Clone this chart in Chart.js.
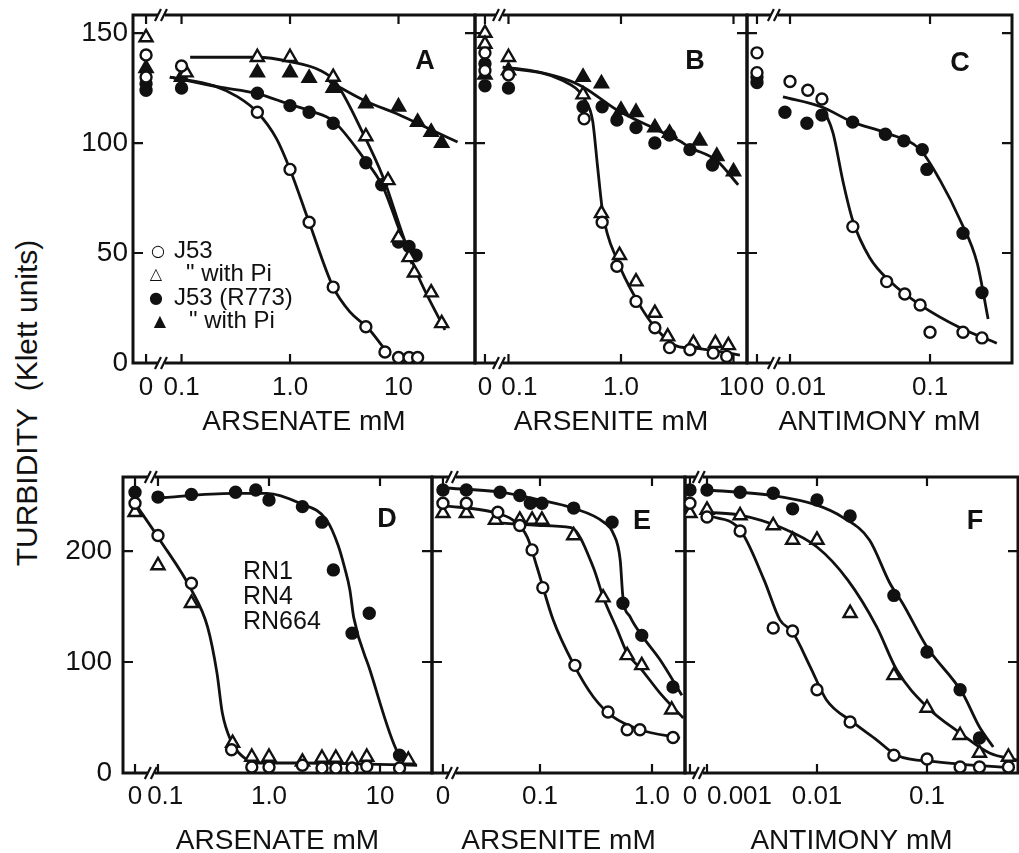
<!DOCTYPE html>
<html>
<head>
<meta charset="utf-8">
<script src="https://cdn.jsdelivr.net/npm/chart.js@4.4.0/dist/chart.umd.min.js"></script>
<style>
  body { margin: 0; background: #fff; width: 1019px; height: 853px; position: relative; overflow: hidden;
         font-family: 'Liberation Sans', Arial, sans-serif; color: #111; }
  canvas { position: absolute; }
  .txt { position: absolute; white-space: nowrap; color: #111; }
  .sym { position: absolute; font-family: 'DejaVu Sans', sans-serif; font-size: 16px; line-height: 16px;
         transform: translate(-50%, -50%); color: #111; }
  .letter { position: absolute; font-weight: bold; font-size: 27px; transform: translate(-50%, -50%); }
</style>
</head>
<body>
<canvas id="cA"></canvas><canvas id="cB"></canvas><canvas id="cC"></canvas>
<canvas id="cD"></canvas><canvas id="cE"></canvas><canvas id="cF"></canvas>

<div class="txt" style="left:27px;top:403px;font-size:30px;transform:translate(-50%,-50%) rotate(-90deg);">TURBIDITY&nbsp; (Klett units)</div>

<div class="letter" style="left:425px;top:60px;">A</div>
<div class="letter" style="left:695px;top:60px;">B</div>
<div class="letter" style="left:960px;top:62px;">C</div>
<div class="letter" style="left:387px;top:518px;">D</div>
<div class="letter" style="left:642px;top:520px;">E</div>
<div class="letter" style="left:975px;top:520px;">F</div>

<!-- legend of panel A -->
<div class="sym" style="left:158px;top:251px;">○</div>
<div class="txt" style="left:174px;top:236px;font-size:24px;">J53</div>
<div class="sym" style="left:156px;top:274px;">△</div>
<div class="txt" style="left:186px;top:259px;font-size:24px;">" with Pi</div>
<div class="sym" style="left:156px;top:298px;">●</div>
<div class="txt" style="left:174px;top:283px;font-size:24px;">J53 (R773)</div>
<div class="sym" style="left:160px;top:321px;">▲</div>
<div class="txt" style="left:189px;top:306px;font-size:24px;">" with Pi</div>

<div class="txt" style="left:243px;top:558px;font-size:25px;line-height:25px;">RN1<br>RN4<br>RN664</div>

<script>
// ---- data: [concentration mM, turbidity] ; concentration 0 = no addition ----

// Panel A - arsenate, E. coli
const A_J53      = [[0,140],[0,130],[0.1,135],[0.5,114],[1,88],[1.5,64],[2.5,34.5],[5,16.5],[7.5,5],[10,2.5],[12.5,2.5],[15,2.5]];
const A_J53Pi    = [[0,148],[0.11,132],[0.5,139],[1,139],[2.5,130],[5,103],[8,83],[10,57],[12.5,48],[14,41],[20,32],[25,18]];
const A_R773     = [[0,127],[0,124],[0.1,125],[0.5,122.6],[1,117],[1.5,114],[2.5,109],[5,91],[7,81],[10,55],[12.5,53],[14.5,49]];
const A_R773Pi   = [[0,134],[0.1,130],[0.5,132],[1,132],[1.5,129.5],[2.5,125],[5,118],[10,116.5],[15,109.5],[20,105],[25,100]];
const A_J53_fit    = [[0.078,130],[0.2,126],[0.33,121],[0.5,114],[0.75,102],[1,88],[1.5,64],[2.5,34.5],[3.6,23],[5.2,16],[7.8,5]];
const A_J53Pi_fit  = [[0.12,139],[0.5,139],[1,137],[1.9,133],[2.6,128],[4.7,104.5],[7.2,84.5],[10.8,59],[14.7,41],[26.8,15]];
const A_R773_fit   = [[0.078,130],[0.22,125.5],[0.5,122.5],[1,117.5],[1.56,114.5],[2.5,110],[4.7,93.6],[7.2,80],[9.9,62],[13.3,45]];
const A_R773Pi_fit = [[2.3,128],[5,119],[10,113],[20,106],[35,100.5]];

// Panel B - arsenite, E. coli
const B_J53      = [[0,141],[0,133],[0.1,131],[0.47,111],[0.68,64],[0.92,44],[1.36,28],[2,16],[2.7,7],[4.1,6],[6.6,4.5],[8.7,3]];
const B_J53Pi    = [[0,150],[0,145],[0.1,139],[0.46,122],[0.67,68],[0.97,49],[1.36,37],[2,22.7],[2.6,12],[4.4,9],[6.9,9],[9,8]];
const B_R773     = [[0,136],[0,126],[0.1,125],[0.46,116.5],[0.68,116.5],[0.92,110.5],[1.36,107],[2,100],[2.7,103.6],[4.1,97],[6.5,90]];
const B_R773Pi   = [[0,131],[0.1,133],[0.46,130],[0.67,127],[1,115],[1.36,114],[2,107],[2.7,104.5],[5,101],[7.1,94],[10,87]];
const B_open_fit   = [[0.089,134.5],[0.3,128.5],[0.48,119.5],[0.56,110],[0.62,89],[0.69,68],[0.92,47],[1.38,28.6],[2.1,15],[3.3,7.3],[4.4,6.8],[11.4,3.6]];
const B_filled_fit = [[0.089,134.5],[0.155,133],[0.3,129.5],[0.46,125.5],[0.92,115],[2.1,106],[3.3,101],[4.1,98],[7.1,92],[11,81]];

// Panel C - antimony, E. coli
const C_J53      = [[0,141],[0,132],[0.01,128],[0.0134,124],[0.0169,120],[0.0281,62],[0.049,37],[0.066,31.4],[0.085,26.4],[0.1,14],[0.172,14],[0.235,11.4]];
const C_R773     = [[0,127.5],[0,130],[0.0092,114],[0.0132,109],[0.0169,112.7],[0.028,109.5],[0.048,104],[0.065,101],[0.088,97],[0.095,88],[0.172,59],[0.235,32]];
const C_J53_fit  = [[0.0175,115],[0.0203,104.5],[0.024,82],[0.028,65],[0.037,48],[0.052,37],[0.085,26.4],[0.164,16],[0.3,9]];
const C_R773_fit = [[0.0089,121],[0.0169,116.4],[0.028,109.5],[0.049,104.5],[0.085,97],[0.118,83],[0.164,65],[0.217,45.5],[0.26,20]];

// Panel D - arsenate, S. aureus
const D_RN1      = [[0,243],[0.1,214],[0.2,171],[0.46,21],[0.7,5.4],[1,5.4],[2,7],[3,4.5],[4,4.5],[5.6,4.5],[7.6,6],[15,4.5]];
const D_RN4      = [[0,235],[0.1,187],[0.2,153],[0.47,27],[0.7,14.4],[1,14.4],[2,10],[3,13.5],[4,13.5],[5.6,11.7],[7.6,14.4],[18,11.7]];
const D_RN664    = [[0,253],[0.1,248.6],[0.2,251],[0.5,253],[0.76,255],[1,246],[2,240],[3,226],[3.8,183],[5.6,126],[8,144],[15,16]];
const D_open_fit   = [[0,243],[0.104,210],[0.2,165],[0.28,131.5],[0.34,90],[0.38,54],[0.45,30],[0.63,12],[0.83,9],[1.9,9],[21.6,7]];
const D_RN664_fit  = [[0.098,247.7],[0.47,252],[0.96,252],[1.9,243],[3.3,228],[4.2,205],[4.8,185],[5.35,165],[5.8,140],[8.1,93],[14.5,18],[20,7]];

// Panel E - arsenite, S. aureus
const E_RN1      = [[0,243],[0.022,243],[0.042,235],[0.066,223],[0.085,201],[0.106,167],[0.205,97],[0.405,55],[0.6,39],[0.78,39],[1.54,32]];
const E_RN4      = [[0,234],[0.022,234],[0.04,228],[0.066,228],[0.085,228],[0.104,228],[0.2,214],[0.366,158],[0.6,106],[0.81,97],[1.5,57]];
const E_RN664    = [[0,255],[0.022,255],[0.044,253],[0.066,250],[0.082,243],[0.104,243],[0.2,238.7],[0.44,226],[0.55,153],[0.81,124],[1.54,77.5]];
const E_RN1_fit    = [[0,241],[0.038,235],[0.057,228],[0.077,212.6],[0.094,185.6],[0.131,138],[0.197,99],[0.3,68.5],[0.45,50.5],[0.78,39],[1.78,31.5]];
const E_RN4_fit    = [[0.035,226],[0.066,224],[0.1,223],[0.19,221],[0.3,185],[0.366,158.6],[0.49,129],[0.6,108],[0.81,93],[1.18,72],[1.9,49.5]];
const E_RN664_fit  = [[0,257],[0.044,253],[0.1,246],[0.197,238.7],[0.37,226],[0.45,216],[0.52,192],[0.55,158.6],[0.64,140.5],[0.81,124],[1.18,102],[1.85,70]];

// Panel F - antimony, S. aureus
const F_RN1      = [[0,243],[0.001,230.6],[0.002,218],[0.004,130.6],[0.006,128],[0.01,75],[0.02,46],[0.05,16],[0.1,12.6],[0.2,5.4],[0.3,5.4],[0.55,5.4]];
const F_RN4      = [[0,234],[0.001,237],[0.002,232],[0.004,223],[0.006,210],[0.01,210],[0.02,144],[0.05,88],[0.1,58.6],[0.2,34],[0.3,18],[0.55,14.4]];
const F_RN664    = [[0,255],[0.001,255],[0.002,253],[0.004,252],[0.006,238],[0.01,246],[0.02,231.5],[0.05,160],[0.1,109],[0.2,75],[0.3,31.5]];
const F_RN1_fit    = [[0.001,232.4],[0.002,219],[0.0033,174],[0.0046,138],[0.006,127],[0.0087,95.5],[0.0122,65.8],[0.021,46],[0.035,29.7],[0.053,16],[0.123,10],[0.6,4.5]];
const F_RN4_fit    = [[0.001,235],[0.0021,232],[0.0046,221.6],[0.01,203.6],[0.019,174],[0.035,131.5],[0.053,93],[0.1,59.5],[0.2,36],[0.37,18],[0.66,11.7]];
const F_RN664_fit  = [[0.001,255],[0.004,250],[0.01,241.4],[0.017,230.6],[0.03,210],[0.046,171],[0.06,153],[0.1,113.5],[0.21,72],[0.3,41.4],[0.4,23.4]];

// tick values and labels (leading spaces nudge a label clear of the "0")
const ticksArsenateA = [0, 0.1, 1, 10];
const labelsArsenateA = ['0', '0.1', '1.0', '10'];
const ticksArseniteB = [0, 0.1, 1, 10];
const labelsArseniteB = ['0', '   0.1', '1.0', '10'];
const ticksAntimonyC = [0, 0.01, 0.1];
const labelsAntimonyC = ['0', '   0.01', '0.1'];
const ticksArsenateD = [0, 0.1, 1, 10];
const labelsArsenateD = ['0', '  0.1', '1.0', '10'];
const ticksArseniteE = [0, 0.1, 1];
const labelsArseniteE = ['0', '0.1', '1.0'];
const ticksAntimonyF = [0, 0.001, 0.01, 0.1];
const labelsAntimonyF = ['0', '         0.001', '0.01', '0.1'];
const yTicksTop = [0, 50, 100, 150];
const yTicksBottom = [0, 100, 200];

Chart.defaults.font.family = "'Liberation Sans', Arial, sans-serif";
Chart.defaults.color = '#111';

// draws the box, inward ticks on all four sides and the axis break marks
const frameTicks = {
  id: 'frameTicks',
  beforeDatasetsDraw(chart, args, opts) {
    const {ctx, chartArea: a, scales: {x, y}} = chart;
    ctx.save();
    ctx.strokeStyle = '#111';
    ctx.lineWidth = 3;
    ctx.strokeRect(a.left, a.top, a.right - a.left, a.bottom - a.top);
    ctx.lineWidth = 2.2;
    ctx.beginPath();
    opts.xTicks.forEach(v => {
      const px = x.getPixelForValue(v);
      ctx.moveTo(px, a.bottom); ctx.lineTo(px, a.bottom - 9);
      ctx.moveTo(px, a.top); ctx.lineTo(px, a.top + 9);
    });
    opts.yTicks.forEach(v => {
      if (v === 0) return;
      const py = y.getPixelForValue(v);
      ctx.moveTo(a.left, py); ctx.lineTo(a.left + 10, py);
      ctx.moveTo(a.right, py); ctx.lineTo(a.right - 10, py);
    });
    ctx.stroke();
    const bx = x.getPixelForValue(opts.breakAt);
    [a.top, a.bottom].forEach(by => {
      ctx.fillStyle = '#fff';
      ctx.fillRect(bx - 4, by - 2, 7, 4);
      ctx.beginPath();
      ctx.moveTo(bx - 7, by + 6); ctx.lineTo(bx - 1, by - 6);
      ctx.moveTo(bx - 1, by + 6); ctx.lineTo(bx + 5, by - 6);
      ctx.stroke();
    });
    ctx.restore();
  }
};

function toPoints(arr, zero) {
  return arr.map(([c, v]) => ({x: c === 0 ? zero : c, y: v}));
}

function markers(arr, style, filled, zero) {
  return {
    data: toPoints(arr, zero), showLine: false, order: 0,
    pointStyle: style, pointRadius: style === 'triangle' ? 7.5 : 5.5,
    pointBorderWidth: 2.4, pointBorderColor: '#111',
    pointBackgroundColor: filled ? '#111' : '#fff'
  };
}

function fitLine(arr, zero) {
  return {
    data: toPoints(arr, zero), showLine: true, order: 1,
    borderColor: '#111', borderWidth: 2.8, pointRadius: 0,
    cubicInterpolationMode: 'monotone', fill: false
  };
}

function makePanel(p) {
  const canvas = document.getElementById(p.id);
  const w = p.leftW + (p.R - p.L) + 10;
  const h = 10 + (p.B - p.T) + p.bottomH;
  canvas.width = w; canvas.height = h;
  canvas.style.left = (p.L - p.leftW) + 'px';
  canvas.style.top = (p.T - 10) + 'px';
  const xTickVals = p.xTicks.map(v => v === 0 ? p.zero : v);
  const datasets = [
    ...p.fits.map(f => fitLine(f, p.zero)),
    ...p.series.map(s => markers(s.data, s.style, s.filled, p.zero))
  ];
  new Chart(canvas, {
    type: 'scatter',
    data: {datasets},
    options: {
      animation: false, responsive: false, events: [],
      layout: {padding: {top: 10, right: 10, left: 0, bottom: 0}},
      plugins: {
        legend: {display: false}, tooltip: {enabled: false},
        frameTicks: {xTicks: xTickVals, yTicks: p.yTicks, breakAt: p.breakAt}
      },
      scales: {
        x: {
          type: 'logarithmic', min: p.xMin, max: p.xMax, bounds: 'data',
          afterFit: s => { s.height = p.bottomH; s.paddingLeft = 0; s.paddingRight = 0; },
          afterBuildTicks: s => { s.ticks = xTickVals.map(v => ({value: v})); },
          grid: {display: false, drawTicks: false}, border: {display: false},
          ticks: {
            autoSkip: false, maxRotation: 0, minRotation: 0, padding: p.xPad,
            font: {size: 26}, color: '#111',
            callback: (v, i) => p.xLabels[i]
          },
          title: {display: true, text: p.title, font: {size: 28}, color: '#111', padding: {top: 0, bottom: p.titlePad}}
        },
        y: {
          type: 'linear', min: 0, max: p.yMax, bounds: 'data',
          afterFit: s => { s.width = p.leftW; s.paddingTop = 0; s.paddingBottom = 0; },
          afterBuildTicks: s => { s.ticks = p.yTicks.map(v => ({value: v})); },
          grid: {display: false, drawTicks: false}, border: {display: false},
          ticks: {display: p.showY, padding: p.yPad, font: {size: 28}, color: '#111',
                  callback: v => String(v)}
        }
      }
    },
    plugins: [frameTicks]
  });
}

const topRow = {T: 15, B: 363, bottomH: 77, yMax: 158.2, yTicks: yTicksTop, xPad: 9, yPad: 5, titlePad: 1};
const botRow = {T: 477, B: 773, bottomH: 85, yMax: 266.7, yTicks: yTicksBottom, xPad: 8, yPad: 11, titlePad: 0};

const panels = [
  {...topRow, id: 'cA', L: 133, R: 475, leftW: 75, showY: true,
   xMin: 0.0357, xMax: 50.7, zero: 0.0471, breakAt: 0.066,
   xTicks: ticksArsenateA, xLabels: labelsArsenateA, title: 'ARSENATE mM',
   fits: [A_J53_fit, A_J53Pi_fit, A_R773_fit, A_R773Pi_fit],
   series: [{data: A_J53, style: 'circle', filled: false}, {data: A_J53Pi, style: 'triangle', filled: false},
            {data: A_R773, style: 'circle', filled: true}, {data: A_R773Pi, style: 'triangle', filled: true}]},
  {...topRow, id: 'cB', L: 475, R: 747, leftW: 10, showY: false,
   xMin: 0.0504, xMax: 13.18, zero: 0.0618, breakAt: 0.084,
   xTicks: ticksArseniteB, xLabels: labelsArseniteB, title: 'ARSENITE mM',
   fits: [B_open_fit, B_filled_fit],
   series: [{data: B_J53, style: 'circle', filled: false}, {data: B_J53Pi, style: 'triangle', filled: false},
            {data: B_R773, style: 'circle', filled: true}, {data: B_R773Pi, style: 'triangle', filled: true}]},
  {...topRow, id: 'cC', L: 747, R: 1012, leftW: 10, showY: false,
   xMin: 0.00493, xMax: 0.385, zero: 0.00581, breakAt: 0.0078,
   xTicks: ticksAntimonyC, xLabels: labelsAntimonyC, title: 'ANTIMONY mM',
   fits: [C_J53_fit, C_R773_fit],
   series: [{data: C_J53, style: 'circle', filled: false}, {data: C_R773, style: 'circle', filled: true}]},
  {...botRow, id: 'cD', L: 123, R: 432, leftW: 75, showY: true,
   xMin: 0.0484, xMax: 29.4, zero: 0.0621, breakAt: 0.088,
   xTicks: ticksArsenateD, xLabels: labelsArsenateD, title: 'ARSENATE mM',
   fits: [D_open_fit, D_RN664_fit],
   series: [{data: D_RN1, style: 'circle', filled: false}, {data: D_RN4, style: 'triangle', filled: false},
            {data: D_RN664, style: 'circle', filled: true}]},
  {...botRow, id: 'cE', L: 432, R: 685, leftW: 10, showY: false,
   xMin: 0.01086, xMax: 1.971, zero: 0.0136, breakAt: 0.0167,
   xTicks: ticksArseniteE, xLabels: labelsArseniteE, title: 'ARSENITE mM',
   fits: [E_RN1_fit, E_RN4_fit, E_RN664_fit],
   series: [{data: E_RN1, style: 'circle', filled: false}, {data: E_RN4, style: 'triangle', filled: false},
            {data: E_RN664, style: 'circle', filled: true}]},
  {...botRow, id: 'cF', L: 685, R: 1018, leftW: 10, showY: false,
   xMin: 0.000631, xMax: 0.672, zero: 0.0007, breakAt: 0.00086,
   xTicks: ticksAntimonyF, xLabels: labelsAntimonyF, title: 'ANTIMONY mM',
   fits: [F_RN1_fit, F_RN4_fit, F_RN664_fit],
   series: [{data: F_RN1, style: 'circle', filled: false}, {data: F_RN4, style: 'triangle', filled: false},
            {data: F_RN664, style: 'circle', filled: true}]}
];

panels.forEach(makePanel);
</script>
</body>
</html>
